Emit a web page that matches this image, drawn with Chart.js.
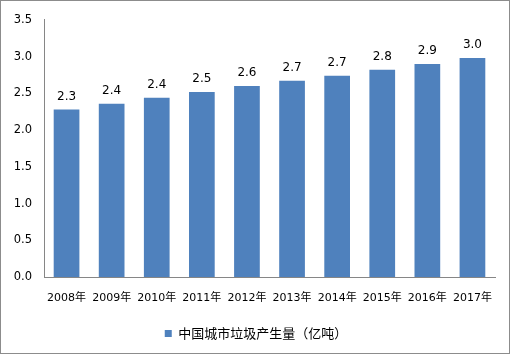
<!DOCTYPE html>
<html><head><meta charset="utf-8">
<script src="https://cdn.jsdelivr.net/npm/chart.js@4"></script>
<style>
html,body{margin:0;padding:0;background:#fff;}
#wrap{position:absolute;left:0;top:0;width:508px;height:352px;border:1px solid #8c8c8c;}
canvas{display:block;}
</style></head>
<body>
<div id="wrap"><canvas id="c" width="508" height="352"></canvas></div>
<script>
const categories = ["2008年","2009年","2010年","2011年","2012年","2013年","2014年","2015年","2016年","2017年"];
const values = [2.28, 2.36, 2.44, 2.52, 2.60, 2.67, 2.74, 2.82, 2.90, 2.98];
const seriesName = "中国城市垃圾产生量（亿吨）";
const yTicks = [0, 0.5, 1, 1.5, 2, 2.5, 3, 3.5];

const FONT = "'DejaVu Sans','Noto Sans CJK SC',sans-serif";
const CJK = "'Noto Sans CJK SC','DejaVu Sans',sans-serif";

const labelPlugin = {
  id: 'valLabels',
  afterLayout(chart) {
    if (chart.legend) { chart.legend.left += 8; chart.legend.right += 8; }
  },
  afterDatasetsDraw(chart) {
    const ctx = chart.ctx;
    const meta = chart.getDatasetMeta(0);
    ctx.save();
    ctx.font = "12px " + FONT;
    ctx.fillStyle = "#000";
    ctx.textAlign = "center";
    ctx.textBaseline = "bottom";
    meta.data.forEach((bar, i) => {
      ctx.fillText(values[i].toFixed(1), bar.x, bar.y - 7);
    });
    ctx.restore();
  }
};

new Chart(document.getElementById('c'), {
  type: 'bar',
  data: {
    labels: categories,
    datasets: [{
      label: seriesName,
      data: values,
      backgroundColor: '#4F81BD',
      borderWidth: 0,
      barPercentage: 0.57,
      categoryPercentage: 1.0
    }]
  },
  options: {
    responsive: false,
    animation: false,
    devicePixelRatio: 1,
    layout: { padding: { top: 15, right: 14, bottom: 3, left: 0 } },
    plugins: {
      legend: {
        position: 'bottom',
        labels: {
          font: { size: 13, family: CJK },
          color: '#000',
          boxWidth: 7,
          boxHeight: 7,
          padding: 12
        }
      },
      tooltip: { enabled: false }
    },
    scales: {
      x: {
        grid: { display: false, drawTicks: false },
        border: { display: true, color: '#868686', width: 1 },
        ticks: { font: { size: 11, family: FONT }, color: '#000', padding: 15, maxRotation: 0, autoSkip: false },
        afterFit(s) { s.height = 38; }
      },
      y: {
        min: 0, max: 3.5,
        afterBuildTicks(s) { s.ticks = yTicks.map(v => ({ value: v })); },
        grid: { display: false, drawTicks: false },
        border: { display: true, color: '#868686', width: 1 },
        ticks: { font: { size: 11.5, family: FONT }, color: '#000', padding: 12,
          callback: v => Number(v).toFixed(1) },
        afterFit(s) { s.width = 43; }
      }
    }
  },
  plugins: [labelPlugin]
});
</script>
</body></html>
